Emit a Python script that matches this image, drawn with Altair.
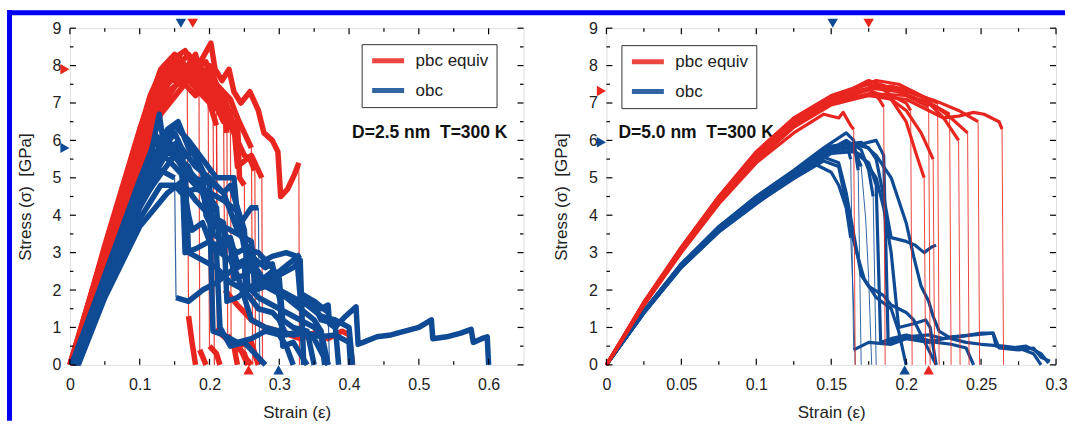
import altair as alt
import pandas as pd

RED = "#e8261f"
BLUE = "#0f4a94"
FONT = "Liberation Sans"
KINDS = ["pbc equiv", "obc"]

# ---------------- Left panel: D=2.5 nm ----------------
L_PBC = [
    [[0.0,0.0],[0.03,1.8],[0.06,3.6],[0.09,5.4],[0.12,7.1],[0.14,7.9],[0.15,7.6],[0.16,8.1],[0.175,7.8],[0.19,8.2],[0.202,8.6],[0.208,7.9],[0.218,7.6],[0.228,7.9],[0.235,7.3],[0.245,7.0],[0.258,7.3],[0.27,6.8],[0.278,6.2],[0.29,6.0],[0.298,5.7],[0.302,4.5],[0.312,4.7],[0.322,5.1],[0.328,5.4],[0.329,0.0]],
    [[0.005,0.0],[0.04,2.2],[0.08,4.5],[0.12,6.8],[0.15,8.2],[0.165,7.9],[0.18,8.3],[0.19,7.6],[0.2,7.9],[0.21,7.2],[0.225,6.6],[0.24,6.0],[0.25,5.6],[0.258,5.5],[0.265,5.2],[0.266,0.0]],
    [[0.0,0.0],[0.04,2.5],[0.08,5.0],[0.115,7.2],[0.135,8.0],[0.15,7.7],[0.158,8.2],[0.168,7.8],[0.17,1.3],[0.175,0.6],[0.18,0.0]],
    [[0.008,0.0],[0.05,2.6],[0.1,5.4],[0.14,7.5],[0.16,7.9],[0.175,7.5],[0.19,7.9],[0.198,7.3],[0.2,0.5],[0.21,0.3],[0.215,0.0]],
    [[0.003,0.0],[0.05,2.9],[0.1,5.9],[0.13,7.6],[0.145,8.1],[0.16,7.5],[0.175,7.8],[0.185,7.3],[0.186,0.4],[0.195,0.0]],
    [[0.01,0.0],[0.05,2.4],[0.1,5.1],[0.13,6.7],[0.16,7.4],[0.18,7.9],[0.2,7.5],[0.215,7.0],[0.23,6.3],[0.231,0.6],[0.245,0.4],[0.255,0.0]],
    [[0.0,0.0],[0.05,3.1],[0.1,6.2],[0.125,7.6],[0.15,7.9],[0.17,8.3],[0.19,7.8],[0.21,7.5],[0.23,7.1],[0.24,6.6],[0.243,5.0],[0.25,4.8],[0.251,0.2],[0.26,0.0]],
    [[0.006,0.0],[0.05,2.7],[0.1,5.6],[0.14,7.7],[0.16,8.0],[0.18,7.4],[0.2,7.0],[0.21,6.4],[0.211,1.0],[0.22,0.8],[0.24,0.5],[0.26,0.6],[0.27,0.0]],
    [[0.004,0.0],[0.05,2.8],[0.1,5.7],[0.13,7.4],[0.16,7.8],[0.19,7.5],[0.22,7.0],[0.222,2.0],[0.24,1.6],[0.26,1.2],[0.28,1.0],[0.3,0.9],[0.33,0.7],[0.35,0.85],[0.37,0.7],[0.39,0.9],[0.4,0.8],[0.405,0.0]],
    [[0.002,0.0],[0.05,3.2],[0.1,6.3],[0.13,7.9],[0.15,8.3],[0.16,7.8],[0.175,8.1],[0.2,7.6],[0.22,7.2],[0.235,6.4],[0.24,5.3],[0.26,5.6],[0.275,5.0],[0.276,0.0]],
    [[0.001,0.0],[0.05,3.0],[0.1,6.0],[0.13,7.7],[0.145,7.9],[0.155,7.5],[0.17,8.0],[0.185,7.6],[0.2,8.0],[0.21,7.5],[0.22,6.9],[0.225,6.2],[0.226,0.8],[0.235,0.5],[0.24,0.0]],
    [[0.007,0.0],[0.05,2.5],[0.1,5.3],[0.14,7.3],[0.16,7.6],[0.18,7.2],[0.195,7.5],[0.21,6.9],[0.22,6.5],[0.235,6.8],[0.25,6.2],[0.26,5.8],[0.262,0.0]],
    [[0.003,0.0],[0.05,2.85],[0.1,5.8],[0.135,7.8],[0.15,8.2],[0.165,8.4],[0.18,7.9],[0.195,8.1],[0.205,7.4],[0.207,0.0]],
    [[0.009,0.0],[0.05,2.5],[0.1,5.2],[0.135,7.0],[0.16,7.7],[0.18,7.6],[0.2,7.2],[0.21,6.8],[0.212,0.9],[0.23,0.6],[0.25,0.3],[0.255,0.0]],
]
L_OBC = [
    [[0.005,0.0],[0.04,1.7],[0.08,3.6],[0.11,5.1],[0.128,6.7],[0.135,5.8],[0.15,6.2],[0.16,5.8],[0.18,5.3],[0.2,5.0],[0.22,4.6],[0.23,4.1],[0.24,3.6],[0.25,3.3],[0.26,2.6],[0.27,2.5],[0.28,2.2],[0.3,2.5],[0.32,2.8],[0.33,2.95],[0.332,1.9],[0.35,1.7],[0.36,1.5],[0.37,1.6],[0.372,1.1],[0.38,1.0],[0.395,1.3],[0.41,1.55],[0.413,0.55],[0.42,0.6],[0.44,0.75],[0.46,0.8],[0.48,0.9],[0.5,1.0],[0.518,1.2],[0.52,0.7],[0.54,0.75],[0.56,0.85],[0.575,0.95],[0.578,0.6],[0.59,0.7],[0.598,0.75],[0.6,0.0]],
    [[0.008,0.0],[0.05,2.2],[0.1,4.6],[0.13,5.9],[0.15,6.4],[0.17,6.0],[0.19,5.5],[0.21,5.0],[0.235,5.0],[0.24,4.0],[0.245,3.8],[0.26,4.2],[0.27,4.2],[0.272,0.0]],
    [[0.01,0.0],[0.05,2.0],[0.1,4.2],[0.13,5.2],[0.15,5.0],[0.152,1.8],[0.17,1.7],[0.19,2.0],[0.21,2.2],[0.23,2.5],[0.25,2.7],[0.252,2.0],[0.27,2.2],[0.29,2.5],[0.3,2.0],[0.32,1.8],[0.34,1.6],[0.36,1.3],[0.38,1.2],[0.4,1.0],[0.405,0.0]],
    [[0.006,0.0],[0.05,2.3],[0.1,4.8],[0.14,6.0],[0.16,5.6],[0.165,3.0],[0.18,3.1],[0.2,3.3],[0.22,3.1],[0.23,3.4],[0.24,2.7],[0.26,2.9],[0.28,2.6],[0.29,2.7],[0.3,1.8],[0.31,1.9],[0.33,1.6],[0.35,1.7],[0.37,1.4],[0.372,0.0]],
    [[0.004,0.0],[0.05,2.35],[0.1,4.9],[0.13,5.8],[0.15,5.6],[0.17,5.3],[0.18,4.8],[0.2,4.5],[0.21,4.2],[0.215,3.0],[0.23,2.8],[0.24,2.4],[0.25,1.8],[0.26,1.2],[0.28,1.0],[0.3,0.9],[0.32,0.8],[0.34,0.85],[0.36,0.75],[0.38,0.8],[0.4,0.6],[0.402,0.0]],
    [[0.007,0.0],[0.05,2.1],[0.1,4.4],[0.14,5.7],[0.16,5.4],[0.19,4.8],[0.2,4.3],[0.205,0.9],[0.22,0.8],[0.24,0.6],[0.26,0.7],[0.28,0.9],[0.3,0.8],[0.31,0.5],[0.32,0.0]],
    [[0.012,0.0],[0.05,1.8],[0.1,3.7],[0.14,4.6],[0.16,4.9],[0.18,4.4],[0.2,4.0],[0.22,3.8],[0.225,1.7],[0.24,1.8],[0.26,2.1],[0.28,2.3],[0.3,2.0],[0.305,0.5],[0.32,0.6],[0.34,0.0]],
    [[0.005,0.0],[0.05,2.3],[0.1,4.8],[0.12,5.7],[0.14,5.5],[0.16,5.1],[0.17,4.0],[0.175,3.6],[0.19,3.8],[0.2,3.3],[0.21,3.0],[0.215,1.0],[0.23,0.5],[0.25,0.6],[0.27,0.2],[0.28,0.0]],
    [[0.009,0.0],[0.05,2.1],[0.1,4.3],[0.13,5.1],[0.15,5.6],[0.17,5.0],[0.19,4.6],[0.2,3.9],[0.23,3.6],[0.26,3.3],[0.265,2.0],[0.28,2.1],[0.3,2.4],[0.32,2.6],[0.33,2.8],[0.335,0.0]],
    [[0.003,0.0],[0.05,2.4],[0.1,4.95],[0.125,6.1],[0.13,6.0],[0.14,6.3],[0.155,6.5],[0.17,5.8],[0.18,5.6],[0.19,5.2],[0.195,4.0],[0.2,3.8],[0.22,3.6],[0.23,3.2],[0.235,2.3],[0.25,2.4],[0.27,2.7],[0.29,2.9],[0.31,3.0],[0.325,2.9],[0.33,1.8],[0.35,1.6],[0.36,1.2],[0.38,1.1],[0.385,0.0]],
    [[0.002,0.0],[0.05,2.35],[0.1,4.9],[0.12,5.9],[0.14,5.9],[0.16,5.5],[0.175,5.7],[0.19,5.2],[0.2,4.8],[0.205,3.5],[0.22,3.3],[0.24,3.0],[0.26,3.2],[0.27,2.2],[0.29,2.0],[0.31,1.8],[0.33,1.5],[0.35,1.2],[0.36,0.9],[0.37,0.0]],
    [[0.011,0.0],[0.05,1.9],[0.1,3.9],[0.13,4.8],[0.15,4.8],[0.16,4.6],[0.18,4.7],[0.2,4.6],[0.22,4.4],[0.24,4.1],[0.25,3.1],[0.27,3.0],[0.29,2.6],[0.3,2.3],[0.305,1.2],[0.32,1.0],[0.34,0.9],[0.35,0.0]],
    [[0.006,0.0],[0.05,2.2],[0.1,4.6],[0.13,5.5],[0.15,5.9],[0.16,5.4],[0.17,5.0],[0.2,4.9],[0.22,4.6],[0.23,4.8],[0.24,4.2],[0.25,3.6],[0.255,2.1],[0.27,1.8],[0.29,1.6],[0.31,1.4],[0.33,1.2],[0.35,1.0],[0.36,0.8],[0.365,0.0]],
    [[0.004,0.0],[0.05,2.3],[0.1,4.7],[0.13,5.9],[0.145,5.7],[0.155,6.0],[0.165,5.2],[0.17,3.0],[0.19,2.8],[0.21,2.6],[0.23,2.2],[0.25,2.0],[0.27,1.5],[0.29,1.4],[0.3,1.2],[0.31,0.8],[0.33,0.9],[0.35,0.7],[0.37,0.0]],
]
L_MARK_TOP = [0.176, 0.159]      # pbc equiv, obc
L_MARK_BOTTOM = [0.256, 0.299]
L_MARK_LEFT = [7.9, 5.8]

# ---------------- Right panel: D=5.0 nm ----------------
R_PBC = [
    [[0,0],[0.025,1.6],[0.05,3.0],[0.075,4.3],[0.1,5.4],[0.125,6.2],[0.145,6.7],[0.155,6.6],[0.158,6.75],[0.163,6.4],[0.165,6.3],[0.166,0.0]],
    [[0,0],[0.025,1.65],[0.05,3.1],[0.075,4.45],[0.1,5.6],[0.125,6.5],[0.15,7.05],[0.165,7.2],[0.175,7.4],[0.182,7.1],[0.185,6.9],[0.186,0.0]],
    [[0,0],[0.025,1.6],[0.05,3.05],[0.075,4.4],[0.1,5.5],[0.125,6.4],[0.15,7.0],[0.17,7.3],[0.18,7.5],[0.19,7.2],[0.2,7.0],[0.203,6.8],[0.204,0.0]],
    [[0,0],[0.025,1.62],[0.05,3.08],[0.075,4.4],[0.1,5.55],[0.125,6.45],[0.15,7.05],[0.175,7.35],[0.19,7.1],[0.2,6.5],[0.207,5.6],[0.212,5.0],[0.213,0.0]],
    [[0,0],[0.025,1.68],[0.05,3.15],[0.075,4.5],[0.1,5.7],[0.125,6.6],[0.15,7.2],[0.165,7.4],[0.175,7.6],[0.19,7.4],[0.205,7.1],[0.215,6.9],[0.216,0.0]],
    [[0,0],[0.025,1.6],[0.05,3.02],[0.075,4.35],[0.1,5.45],[0.125,6.35],[0.15,6.95],[0.175,7.2],[0.19,7.1],[0.2,6.8],[0.21,6.2],[0.218,5.5],[0.219,0.0]],
    [[0,0],[0.025,1.66],[0.05,3.12],[0.075,4.48],[0.1,5.65],[0.125,6.55],[0.15,7.15],[0.17,7.45],[0.18,7.6],[0.195,7.5],[0.21,7.2],[0.221,7.0],[0.222,0.0]],
    [[0,0],[0.025,1.64],[0.05,3.1],[0.075,4.42],[0.1,5.58],[0.125,6.48],[0.15,7.1],[0.175,7.4],[0.195,7.3],[0.215,7.0],[0.225,6.6],[0.235,6.0],[0.236,0.0]],
    [[0,0],[0.025,1.61],[0.05,3.04],[0.075,4.38],[0.1,5.5],[0.125,6.38],[0.15,6.98],[0.175,7.25],[0.2,7.2],[0.22,6.9],[0.23,6.6],[0.241,6.2],[0.242,0.0]],
    [[0,0],[0.025,1.67],[0.05,3.14],[0.075,4.5],[0.1,5.68],[0.125,6.58],[0.15,7.18],[0.175,7.5],[0.2,7.3],[0.22,7.05],[0.235,6.8],[0.248,6.5],[0.249,0.0]],
    [[0,0],[0.025,1.63],[0.05,3.06],[0.075,4.4],[0.1,5.52],[0.125,6.42],[0.15,7.0],[0.175,7.2],[0.2,7.1],[0.215,6.8],[0.225,6.6],[0.235,6.65],[0.245,6.75],[0.252,6.7],[0.262,6.5],[0.264,6.3],[0.265,0.0]],
    [[0,0],[0.025,1.65],[0.05,3.1],[0.075,4.45],[0.1,5.6],[0.125,6.5],[0.15,7.1],[0.17,7.35],[0.19,7.45],[0.205,7.3],[0.22,6.9],[0.229,6.7],[0.23,0.0]],
]
R_OBC = [
    [[0,0],[0.025,1.38],[0.05,2.6],[0.075,3.55],[0.1,4.3],[0.12,4.9],[0.14,5.35],[0.15,5.15],[0.155,4.8],[0.16,4.2],[0.163,3.4],[0.165,1.5],[0.166,0.0]],
    [[0,0],[0.025,1.42],[0.05,2.66],[0.075,3.62],[0.1,4.42],[0.125,5.1],[0.15,5.8],[0.16,5.95],[0.163,5.5],[0.165,0.4],[0.175,0.6],[0.19,0.55],[0.2,0.7],[0.215,0.6],[0.23,0.75],[0.245,0.8],[0.258,0.85],[0.26,0.5],[0.27,0.45],[0.28,0.5],[0.29,0.3],[0.295,0.05]],
    [[0,0],[0.025,1.45],[0.05,2.7],[0.075,3.7],[0.1,4.5],[0.125,5.2],[0.145,5.8],[0.16,6.2],[0.165,6.0],[0.168,5.2],[0.17,0.0]],
    [[0,0],[0.025,1.4],[0.05,2.64],[0.075,3.6],[0.1,4.4],[0.125,5.05],[0.15,5.7],[0.165,5.8],[0.17,5.3],[0.173,3.9],[0.175,2.3],[0.177,0.0]],
    [[0,0],[0.025,1.39],[0.05,2.62],[0.075,3.58],[0.1,4.35],[0.125,5.0],[0.145,5.55],[0.155,5.4],[0.16,4.6],[0.165,3.5],[0.17,2.4],[0.175,2.1],[0.185,1.85],[0.19,1.6],[0.2,1.4],[0.205,1.2],[0.21,0.8],[0.215,0.4],[0.22,0.0]],
    [[0,0],[0.025,1.43],[0.05,2.68],[0.075,3.65],[0.1,4.47],[0.125,5.15],[0.15,5.75],[0.165,5.9],[0.175,5.8],[0.18,5.5],[0.185,4.5],[0.19,3.4],[0.2,3.3],[0.206,3.2],[0.212,3.0],[0.217,3.15],[0.22,3.2]],
    [[0,0],[0.025,1.41],[0.05,2.65],[0.075,3.62],[0.1,4.42],[0.125,5.08],[0.15,5.7],[0.16,5.85],[0.17,5.6],[0.18,5.0],[0.185,4.2],[0.19,3.0],[0.193,1.8],[0.195,1.0],[0.205,1.1],[0.213,1.2],[0.216,1.0],[0.22,0.0]],
    [[0,0],[0.025,1.44],[0.05,2.7],[0.075,3.68],[0.1,4.5],[0.125,5.18],[0.15,5.85],[0.17,5.95],[0.18,5.6],[0.19,5.0],[0.195,4.4],[0.2,3.8],[0.205,2.9],[0.21,2.1],[0.215,1.7],[0.218,1.3],[0.222,0.9],[0.23,0.7],[0.24,0.6],[0.25,0.55],[0.265,0.5],[0.275,0.45],[0.285,0.3],[0.29,0.0]],
    [[0,0],[0.025,1.4],[0.05,2.63],[0.075,3.6],[0.1,4.38],[0.125,5.02],[0.15,5.65],[0.165,5.7],[0.175,5.4],[0.18,4.8],[0.183,0.6],[0.19,0.7],[0.2,0.8],[0.21,0.7],[0.22,0.6],[0.23,0.55],[0.24,0.45],[0.245,0.0]],
    [[0,0],[0.025,1.42],[0.05,2.67],[0.075,3.64],[0.1,4.46],[0.125,5.12],[0.15,5.78],[0.16,6.0],[0.17,5.75],[0.175,5.2],[0.178,4.5],[0.18,0.0]],
    [[0,0],[0.025,1.39],[0.05,2.61],[0.075,3.56],[0.1,4.32],[0.125,4.98],[0.145,5.45],[0.155,5.3],[0.158,4.7],[0.162,3.8],[0.167,3.0],[0.172,2.3],[0.18,1.8],[0.19,1.5],[0.195,0.9],[0.2,0.0]],
    [[0,0],[0.025,1.43],[0.05,2.69],[0.075,3.66],[0.1,4.48],[0.125,5.14],[0.15,5.8],[0.17,5.9],[0.18,6.0],[0.185,5.6],[0.188,0.6],[0.2,0.75],[0.215,0.8],[0.225,0.7],[0.235,0.75],[0.25,0.85],[0.258,0.85],[0.262,0.45],[0.275,0.4],[0.285,0.45],[0.29,0.2],[0.296,0.1]],
]
R_MARK_TOP = [0.175, 0.151]
R_MARK_BOTTOM = [0.215, 0.199]
R_MARK_LEFT = [7.32, 5.95]

Y_MAJOR = [0, 1, 2, 3, 4, 5, 6, 7, 8, 9]
Y_MINOR = [0.5, 1.5, 2.5, 3.5, 4.5, 5.5, 6.5, 7.5, 8.5]
L_X_MAJOR = [0, 0.1, 0.2, 0.3, 0.4, 0.5, 0.6]
L_X_MINOR = [0.05, 0.15, 0.25, 0.35, 0.45, 0.55]
R_X_MAJOR = [0, 0.05, 0.1, 0.15, 0.2, 0.25, 0.3]
R_X_MINOR = [0.025, 0.075, 0.125, 0.175, 0.225, 0.275]

H = 337
MAJ, MIN = 6, 3.5


def split_curves(pbc, obc):
    """Split every run into its noisy stretches and its sudden load drops."""
    thick, thin = [], []
    for kind, curves in (("pbc equiv", pbc), ("obc", obc)):
        for r, c in enumerate(curves):
            cur, seg = [c[0]], 0
            for i in range(1, len(c)):
                (x0, y0), (x1, y1) = c[i - 1], c[i]
                drop = (y1 - y0) < -0.8 and (x1 - x0) <= 0.003
                if drop:
                    if len(cur) > 1:
                        for j, (x, y) in enumerate(cur):
                            thick.append({"kind": kind, "run": f"{kind}-{r}-{seg}", "idx": j,
                                          "strain": x, "stress": y})
                        seg += 1
                    for j, (x, y) in enumerate((c[i - 1], c[i])):
                        thin.append({"kind": kind, "run": f"{kind}-{r}-d{i}", "idx": j,
                                     "strain": x, "stress": y})
                    cur = [c[i]]
                else:
                    cur.append(c[i])
            if len(cur) > 1:
                for j, (x, y) in enumerate(cur):
                    thick.append({"kind": kind, "run": f"{kind}-{r}-{seg}", "idx": j,
                                  "strain": x, "stress": y})
    return pd.DataFrame(thick), pd.DataFrame(thin)


def panel(pbc, obc, W, xmax, xmaj, xmin, wide, narrow, order, label, lx, ly, align,
          legx, legy, mtop, mbot, mleft, border=False):
    xs = alt.Scale(domain=[0, xmax], nice=False, zero=False)
    ys = alt.Scale(domain=[0, 9], nice=False, zero=False)
    xax = alt.Axis(values=xmaj, format="~g", title="Strain (ε)", ticks=False, tickSize=0,
                   domain=False, grid=False, labelPadding=12, titlePadding=12,
                   labelFlush=False, labelFontSize=16, titleFontSize=17,
                   labelColor="#222", titleColor="#222", labelFont=FONT, titleFont=FONT,
                   titleFontWeight="normal")
    yax = alt.Axis(values=Y_MAJOR, format="~g", title="Stress (σ)\u00a0 [GPa]", ticks=False,
                   tickSize=0, domain=False, grid=False, labelPadding=9, titlePadding=18,
                   labelFlush=False, labelFontSize=16, titleFontSize=17,
                   labelColor="#222", titleColor="#222", labelFont=FONT, titleFont=FONT,
                   titleFontWeight="normal")

    def X(f):
        return alt.X(f, type="quantitative", scale=xs, axis=xax)

    def Y(f):
        return alt.Y(f, type="quantitative", scale=ys, axis=yax)

    color = alt.Color("kind:N", scale=alt.Scale(domain=KINDS, range=[RED, BLUE]),
                      legend=alt.Legend(orient="none", legendX=legx, legendY=legy, title=None,
                                        strokeColor="#333", fillColor="white", padding=8,
                                        symbolType="stroke", symbolSize=1024,
                                        symbolStrokeWidth=5, clipHeight=17,
                                        labelFontSize=17, labelFont=FONT, labelColor="#222",
                                        labelOffset=9, rowPadding=12, labelLimit=200))
    thick, thin = split_curves(pbc, obc)
    layers = []
    txt = pd.DataFrame({"x": [lx], "y": [ly], "t": [label]})
    layers.append(alt.Chart(txt).mark_text(align=align, baseline="middle", fontSize=17.5,
                                           fontWeight="bold", font=FONT, color="#111")
                  .encode(x=X("x"), y=Y("y"), text="t:N"))
    for kind in order:
        layers.append(alt.Chart(thick).transform_filter(alt.datum.kind == kind)
                      .mark_line(strokeWidth=wide, strokeJoin="round")
                      .encode(x=X("strain"), y=Y("stress"), color=color,
                              detail="run:N", order="idx:Q"))
        layers.append(alt.Chart(thin).transform_filter(alt.datum.kind == kind)
                      .mark_line(strokeWidth=narrow, opacity=0.85)
                      .encode(x=X("strain"), y=Y("stress"), color=color,
                              detail="run:N", order="idx:Q"))
    # inward ticks on four sides
    for vals, L in ((xmaj, MAJ), (xmin, MIN)):
        d = pd.DataFrame({"t": vals})
        layers.append(alt.Chart(d).mark_rule(color="black", strokeWidth=1.2)
                      .encode(x=X("t"), y=alt.value(H), y2=alt.value(H - L)))
        layers.append(alt.Chart(d).mark_rule(color="black", strokeWidth=1.2)
                      .encode(x=X("t"), y=alt.value(0), y2=alt.value(L)))
    for vals, L in ((Y_MAJOR, MAJ), (Y_MINOR, MIN)):
        d = pd.DataFrame({"t": vals})
        layers.append(alt.Chart(d).mark_rule(color="black", strokeWidth=1.2)
                      .encode(y=Y("t"), x=alt.value(0), x2=alt.value(L)))
        layers.append(alt.Chart(d).mark_rule(color="black", strokeWidth=1.2)
                      .encode(y=Y("t"), x=alt.value(W), x2=alt.value(W - L)))
    # triangle markers
    cmap = {"pbc equiv": RED, "obc": BLUE}
    for k, kind in enumerate(KINDS):
        c = cmap[kind]
        layers.append(alt.Chart(pd.DataFrame({"v": [mtop[k]]}))
                      .mark_point(shape="triangle-down", filled=True, size=110, color=c, opacity=1)
                      .encode(x=X("v"), y=alt.value(-5)))
        layers.append(alt.Chart(pd.DataFrame({"v": [mbot[k]]}))
                      .mark_point(shape="triangle-up", filled=True, size=110, color=c, opacity=1)
                      .encode(x=X("v"), y=alt.value(H + 5)))
        layers.append(alt.Chart(pd.DataFrame({"v": [mleft[k]]}))
                      .mark_point(shape="triangle-right", filled=True, size=110, color=c, opacity=1)
                      .encode(y=Y("v"), x=alt.value(-5)))
    if border:
        layers.append(alt.Chart(pd.DataFrame({"a": [0]})).mark_rule(color="#0000f0", strokeWidth=5)
                      .encode(x=alt.value(-60.5), x2=alt.value(-60.5),
                              y=alt.value(-18), y2=alt.value(393)))
        layers.append(alt.Chart(pd.DataFrame({"a": [0]})).mark_rule(color="#0000f0", strokeWidth=5)
                      .encode(x=alt.value(-63), x2=alt.value(996),
                              y=alt.value(-15.5), y2=alt.value(-15.5)))
    return alt.layer(*layers).properties(width=W, height=H)


left = panel(L_PBC, L_OBC, 454, 0.65, L_X_MAJOR, L_X_MINOR, 5.5, 1.2,
             ["pbc equiv", "obc"], "D=2.5 nm\u00a0 T=300 K", 0.627, 6.19, "right",
             292, 16, L_MARK_TOP, L_MARK_BOTTOM, L_MARK_LEFT, border=True)
right = panel(R_PBC, R_OBC, 450, 0.3, R_X_MAJOR, R_X_MINOR, 3.2, 1.0,
              ["obc", "pbc equiv"], "D=5.0 nm\u00a0 T=300 K", 0.008, 6.19, "left",
              15, 17, R_MARK_TOP, R_MARK_BOTTOM, R_MARK_LEFT)

chart = (alt.hconcat(left, right, spacing=83, bounds="flush")
         .resolve_scale(x="independent", y="independent", color="independent")
         .resolve_legend(color="independent")
         .properties(padding={"left": 4, "top": 7, "right": 0, "bottom": 0},
                     background="white")
         .configure_view(stroke="black", strokeWidth=1.5)
         .configure(font=FONT))

chart.save("out.html", embed_options={"renderer": "svg", "actions": False})
